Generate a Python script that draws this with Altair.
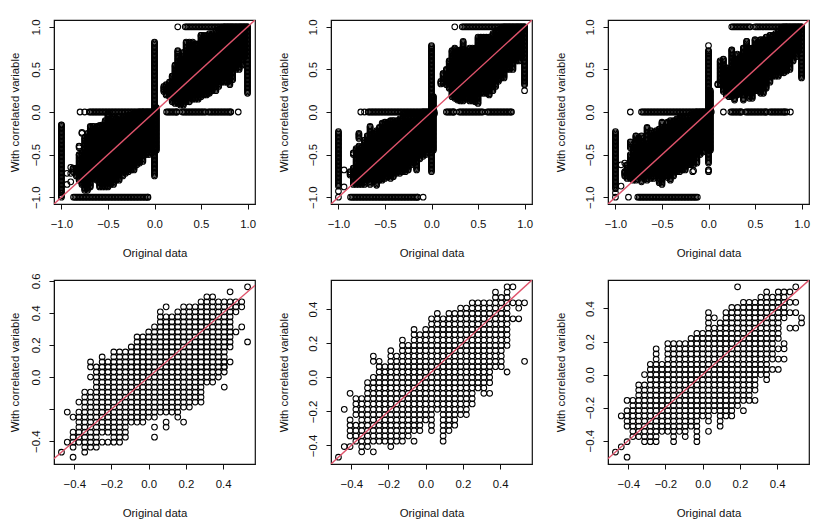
import altair as alt
import pandas as pd

# ---- bottom row: lattice columns (column index in 1/32, list of (high,low) row index in 1/32)
P4_COLS = [
 (-15,[(-15,-15)]),(-14,[(-7,-7),(-13,-13)]),(-13,[(-8,-8),(-11,-14),(-16,-16)]),
 (-12,[(-5,-5),(-7,-13)]),(-11,[(-3,-15)]),(-10,[(3,2),(0,0),(-3,-14)]),(-9,[(2,-14)]),
 (-8,[(4,-11),(-13,-13)]),(-7,[(3,-11),(-13,-13)]),(-6,[(5,-13)]),(-5,[(5,-13)]),(-4,[(5,-12)]),
 (-3,[(6,-9)]),(-2,[(8,-9)]),(-1,[(8,-9)]),(0,[(9,-8)]),(1,[(10,-8),(-10,-10),(-12,-12)]),
 (2,[(13,13),(12,-7)]),(3,[(14,14),(12,-7),(-9,-10)]),(4,[(12,-7)]),(5,[(13,-8)]),
 (6,[(14,-6),(-9,-9)]),(7,[(14,-6)]),(8,[(14,-5)]),(9,[(15,-5)]),(10,[(16,-1)]),(11,[(16,-1)]),
 (12,[(15,0)]),(13,[(15,1),(3,2),(-2,-2)]),(14,[(17,17),(15,6),(3,3)]),
 (15,[(15,15),(14,14),(13,13),(9,9)]),(16,[(15,14),(10,10)]),(17,[(18,18),(7,7)]),
]
P5_COLS = [
 (-15,[(-15,-15)]),(-14,[(-6,-6),(-13,-13)]),(-13,[(-3,-3),(-8,-11),(-13,-13)]),
 (-12,[(-4,-7),(-9,-12)]),(-11,[(-4,-14)]),(-10,[(-1,-13)]),(-9,[(4,3),(0,-12),(-14,-14)]),
 (-8,[(3,-12)]),(-7,[(2,-12)]),(-6,[(5,-13)]),(-5,[(4,-12)]),(-4,[(7,-12)]),(-3,[(6,-11)]),
 (-2,[(9,-10),(-12,-12)]),(-1,[(8,-10)]),(0,[(9,-8)]),(1,[(11,-10)]),(2,[(12,-6)]),
 (3,[(11,-12)]),(4,[(12,-10)]),(5,[(12,-9)]),(6,[(13,-7)]),(7,[(13,-7)]),(8,[(14,-5)]),
 (9,[(14,-2)]),(10,[(14,-3)]),(11,[(14,-1),(-3,-3)]),(12,[(16,2)]),(13,[(15,5),(4,2)]),
 (14,[(17,17),(16,7),(6,6),(1,1)]),(15,[(17,17),(14,14),(11,11)]),(16,[(14,13),(11,11)]),
 (17,[(14,14),(3,3)]),
]
P6_COLS = [
 (-15,[(-15,-15)]),(-14,[(-8,-8),(-14,-14)]),(-13,[(-5,-5),(-7,-10),(-13,-13),(-16,-16)]),
 (-12,[(-5,-12)]),(-11,[(-2,-12)]),(-10,[(0,0),(-2,-13)]),(-9,[(2,-13)]),(-8,[(5,-13)]),
 (-7,[(2,-11)]),(-6,[(6,-11)]),(-5,[(6,-13)]),(-4,[(6,-11)]),(-3,[(6,-12)]),(-2,[(7,-10)]),
 (-1,[(8,-13)]),(0,[(8,-8)]),(1,[(12,-9),(-11,-11)]),(2,[(11,11),(9,-7)]),(3,[(10,-10)]),
 (4,[(12,-8)]),(5,[(13,-8)]),(6,[(17,17),(13,-6)]),(7,[(14,-5),(-7,-7)]),(8,[(14,-5)]),
 (9,[(14,-3),(-5,-5)]),(10,[(15,0)]),(11,[(16,-1)]),(12,[(15,3),(1,1)]),
 (13,[(16,7),(5,5),(3,3),(1,1)]),(14,[(16,11),(6,5),(3,3)]),(15,[(16,16),(14,14),(12,12),(9,9)]),
 (16,[(17,17),(14,14),(12,12),(9,9)]),(17,[(11,10)]),
]

# ---- top row: solid clouds as columns (x, top, bottom)
P1_LOW = [(-.875,-.66,-.70),(-.84,-.66,-.75),(-.81,-.40,-.42),(-.81,-.50,-.80),(-.78,-.24,-.25),(-.78,-.48,-.85),
 (-.75,-.30,-.92),(-.72,-.25,-.92),(-.69,-.17,-.88),(-.66,-.17,-.78),(-.62,-.17,-.80),(-.59,-.16,-.88),
 (-.56,-.15,-.88),(-.53,-.10,-.88),(-.50,-.02,-.88),(-.47,-.08,-.85),(-.44,-.07,-.85),(-.41,-.08,-.80),
 (-.38,-.05,-.80),(-.34,-.05,-.75),(-.31,-.05,-.72),(-.28,-.04,-.70),(-.25,-.03,-.68),(-.22,-.02,-.68),
 (-.19,-.01,-.62),(-.16,0,-.60),(-.125,0,-.58),(-.09,0,-.50),(-.06,0,-.50),(-.03,0,-.48)]
P1_UP = [(.10,.30,.24),(.125,.32,.20),(.16,.35,.18),(.19,.42,.12),(.22,.55,.10),(.25,.72,.10),(.28,.62,.08),
 (.31,.70,.08),(.34,.82,.12),(.375,.82,.12),(.41,.82,.15),(.44,.80,.15),(.47,.80,.15),(.50,.90,.18),
 (.53,.90,.20),(.56,.90,.20),(.59,.92,.22),(.62,.92,.25),(.66,.95,.25),(.69,.97,.30),(.72,.98,.35),
 (.75,1,.35),(.78,1,.35),(.81,1,.32),(.84,1,.38),(.875,1,.50),(.91,1,.50),(.94,1,.55),(.97,1,.65)]
P1_EXTRA = [(-.94,-.72),(-.94,-.85),(-.90,-.65),(-.90,-.72),(-.90,-.82)]
P1_STACKS = [(-1,-.95,-.15),(-1,-1,-.98),(0,-.75,.82),(.02,-.45,.05),(1,.22,1)]
P1_ROWS = [(0,-.70,0),(-1,-.87,-.07),(0,.13,.24),(0,.30,.55),(0,.58,.82),(1,.33,1)]
P1_SINGLE = [(-.8,0),(-.75,0),(.25,1),(.9,0)]

P2_LOW = [(-.875,-.70,-.74),(-.84,-.48,-.50),(-.84,-.66,-.85),(-.81,-.43,-.85),(-.78,-.25,-.31),(-.78,-.40,-.85),
 (-.75,-.42,-.85),(-.72,-.33,-.85),(-.69,-.28,-.80),(-.66,-.17,-.85),(-.62,-.25,-.82),(-.59,-.22,-.86),
 (-.56,-.18,-.80),(-.53,-.13,-.80),(-.50,-.12,-.78),(-.47,-.12,-.76),(-.44,-.10,-.78),(-.41,-.10,-.76),
 (-.375,-.10,-.72),(-.34,-.08,-.72),(-.31,-.07,-.70),(-.28,-.06,-.70),(-.25,-.06,-.68),(-.22,-.05,-.62),
 (-.19,-.05,-.60),(-.16,-.04,-.68),(-.125,-.02,-.55),(-.09,0,-.52),(-.06,0,-.50),(-.03,0,-.45)]
P2_UP = [(.10,.36,.33),(.125,.45,.34),(.16,.50,.32),(.19,.60,.28),(.22,.72,.18),(.25,.75,.16),(.28,.72,.14),
 (.31,.73,.13),(.34,.83,.13),(.375,.72,.15),(.41,.75,.13),(.44,.75,.13),(.47,.75,.12),(.50,.88,.10),
 (.53,.88,.22),(.56,.88,.22),(.59,.88,.22),(.62,.88,.20),(.66,.92,.25),(.69,.95,.30),(.72,.96,.36),
 (.75,.98,.40),(.78,1,.40),(.81,1,.50),(.84,1,.50),(.875,1,.50),(.91,1,.60),(.94,1,.60),(.97,1,.65)]
P2_EXTRA = [(-.94,-.88),(-.94,-.68)]
P2_STACKS = [(-1,-.87,-.23),(-1,-.93,-.93),(-1,-1,-1),(0,-.70,.78),(.02,-.45,.18),(1,.32,1)]
P2_ROWS = [(0,-.68,.03),(-.02,-.30,.03),(-1,-.87,-.15),(0,.16,.24),(0,.30,.55),(0,.60,.86),(1,.33,1)]
P2_SINGLE = [(-.76,0),(-.72,0),(.25,1),(-.09,-1),(1,.25)]

P3_LOW = [(-.90,-.60,-.60),(-.90,-.70,-.75),(-.875,-.62,-.78),(-.84,-.35,-.42),(-.84,-.50,-.78),(-.81,-.42,-.80),
 (-.78,-.28,-.80),(-.75,-.30,-.75),(-.72,-.28,-.82),(-.69,-.38,-.78),(-.66,-.18,-.80),(-.62,-.22,-.78),
 (-.59,-.25,-.78),(-.56,-.22,-.75),(-.53,-.20,-.83),(-.50,-.12,-.85),(-.47,-.18,-.75),(-.44,-.12,-.77),
 (-.41,-.10,-.80),(-.375,-.10,-.75),(-.34,-.08,-.70),(-.31,-.07,-.70),(-.28,-.06,-.68),(-.25,-.05,-.68),
 (-.22,-.05,-.62),(-.19,-.03,-.62),(-.16,-.02,-.62),(-.125,0,-.60),(-.09,0,-.50),(-.06,0,-.47),(-.03,0,-.42)]
P3_UP = [(.10,.33,.32),(.125,.60,.32),(.16,.62,.24),(.19,.52,.20),(.22,.50,.18),(.25,.73,.18),(.28,.62,.14),
 (.31,.68,.20),(.34,.65,.22),(.375,.75,.14),(.41,.83,.22),(.44,.75,.16),(.47,.75,.16),(.50,.85,.25),
 (.53,.82,.25),(.56,.85,.22),(.59,.85,.22),(.62,.88,.28),(.66,.90,.35),(.69,.90,.42),(.72,.92,.42),
 (.75,.95,.42),(.78,.98,.46),(.81,1,.46),(.84,1,.48),(.875,1,.50),(.91,1,.60),(.94,1,.65),(.97,1,.72)]
P3_EXTRA = [(-.94,-.87),(-.94,-.62),(-.16,-.69),(-.17,-.70)]
P3_STACKS = [(-1,-.90,-.23),(-1,-.95,-.95),(-1,-1,-1),(0,-.60,.72),(0,-.70,-.68),(0,.78,.78),(.02,-.45,.25),(1,.40,1)]
P3_ROWS = [(0,-.72,.03),(-1,-.76,-.12),(0,.24,.35),(0,.40,.62),(0,.66,.82),(1,.25,.45),(1,.50,1)]
P3_SINGLE = [(-.84,0),(-.86,-1),(.16,0),(.88,0),(.84,0)]

STEP = 1 / 64


def span(a, b):
    out, v = [], a
    while v < b - 1e-9:
        out.append(v)
        v += STEP
    out.append(b)
    return out


def lattice(cols):
    xs, ys = [], []
    for i, ranges in cols:
        for hi, lo in ranges:
            for k in range(lo, hi + 1):
                xs.append(i / 32)
                ys.append(k / 32)
    return pd.DataFrame({"x": xs, "y": ys})


def cloud(low, up, extra, stacks, rows, single):
    xs, ys = [], []
    for x, hi, lo in low + up:
        for v in span(lo, hi):
            xs.append(x)
            ys.append(v)
    for x, a, b in stacks:
        for v in span(a, b):
            xs.append(x)
            ys.append(v)
    for y, a, b in rows:
        for v in span(a, b):
            xs.append(v)
            ys.append(y)
    for x, y in extra + single:
        xs.append(x)
        ys.append(y)
    return pd.DataFrame({"x": xs, "y": ys})


LINE = pd.DataFrame({"x": [-2.0, 2.0], "y": [-2.0, 2.0]})
FONT = "Liberation Sans"
FS = 11.4


def panel(df, xdom, ydom, xticks, yticks, hide=None, ytitle_pad=18):
    lx = alt.Axis(values=xticks, format=".1f", grid=False, title="Original data", labelFlush=False,
                  labelOverlap=False, tickSize=5, tickColor="#111", domainColor="#111", labelColor="#111",
                  titleColor="#111", labelFont=FONT, titleFont=FONT, labelFontSize=FS, titleFontSize=FS,
                  titleFontWeight="normal", labelPadding=9, titlePadding=18, tickWidth=1)
    kw = {}
    if hide is not None:
        kw["labelExpr"] = f"abs(datum.value - ({hide})) < 0.001 ? '' : datum.label"
    ly = alt.Axis(values=yticks, format=".1f", grid=False, title="With correlated variable", labelFlush=False,
                  labelOverlap=False, labelAngle=270, labelAlign="center", labelBaseline="bottom",
                  tickSize=5, tickColor="#111", domainColor="#111", labelColor="#111", titleColor="#111",
                  labelFont=FONT, titleFont=FONT, labelFontSize=FS, titleFontSize=FS,
                  titleFontWeight="normal", labelPadding=8, titlePadding=ytitle_pad, tickWidth=1, **kw)
    xs = alt.X("x:Q", axis=lx, scale=alt.Scale(domain=xdom, nice=False, zero=False))
    ys = alt.Y("y:Q", axis=ly, scale=alt.Scale(domain=ydom, nice=False, zero=False))
    pts = alt.Chart(df).mark_point(shape="circle", filled=False, size=32, strokeWidth=1.1, color="#000",
                                   opacity=1, clip=True).encode(x=xs, y=ys)
    line = alt.Chart(LINE).mark_line(color="#DF536B", strokeWidth=1.4, clip=True).encode(x=xs, y=ys)
    return (pts + line).properties(width=201, height=184)


T = [-1.0, -0.5, 0.0, 0.5, 1.0]
D = [-1.08, 1.08]
X2 = [-0.4, -0.2, 0.0, 0.2, 0.4]
XD = [-0.50875, 0.57125]

charts = [
    panel(cloud(P1_LOW, P1_UP, P1_EXTRA, P1_STACKS, P1_ROWS, P1_SINGLE), D, D, T, T, ytitle_pad=10),
    panel(cloud(P2_LOW, P2_UP, P2_EXTRA, P2_STACKS, P2_ROWS, P2_SINGLE), D, D, T, T),
    panel(cloud(P3_LOW, P3_UP, P3_EXTRA, P3_STACKS, P3_ROWS, P3_SINGLE), D, D, T, T),
    panel(lattice(P4_COLS), XD, [-0.5425, 0.605], X2, [-0.4, -0.2, 0.0, 0.2, 0.4, 0.6], hide=-0.2, ytitle_pad=10),
    panel(lattice(P5_COLS), XD, XD, X2, X2),
    panel(lattice(P6_COLS), XD, [-0.54125, 0.5725], X2, X2),
]

chart = alt.concat(
    *charts, columns=3, spacing={"row": 76, "column": 76}, bounds="flush"
).properties(padding={"left": 0, "top": 10, "right": 0, "bottom": 0}).configure_view(stroke="#111", strokeWidth=1.2)

chart.save("out.html", embed_options={"renderer": "svg", "actions": False})
